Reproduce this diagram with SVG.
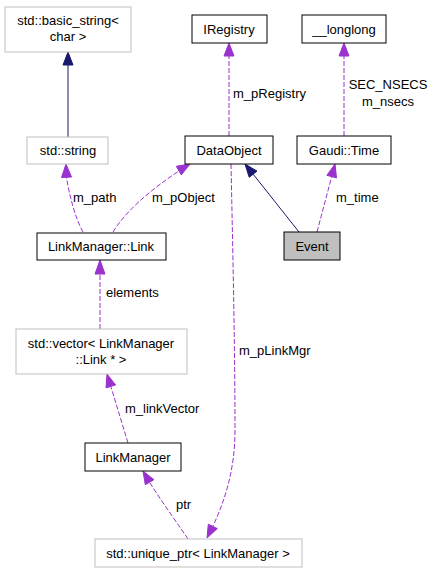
<svg xmlns="http://www.w3.org/2000/svg" width="436" height="573" viewBox="0 0 436 573">
<style>
text{font-family:"Liberation Sans",Arial,sans-serif;font-size:13px;fill:#000}
.n text{text-anchor:middle}
.b{fill:#fff;stroke:#000;stroke-width:1}
.g{fill:#fff;stroke:#bfbfbf;stroke-width:1}
.inh{fill:none;stroke:#191970;stroke-width:1}
.inhA{fill:#191970;stroke:#191970}
.use{fill:none;stroke:#9a32cd;stroke-width:1;stroke-dasharray:5,2}
.useA{fill:#9a32cd;stroke:#9a32cd}
</style>
<rect width="436" height="573" fill="#fff"/>
<g id="edges">
<path class="inh" d="M68,137 V64"/>
<polygon class="inhA" points="63,65 68,52 73,65"/>
<path class="inh" d="M299,232 L253,174"/>
<polygon class="inhA" points="257,171.1 245,164 249.2,177.3"/>
<path class="use" d="M229,136 V56"/>
<polygon class="useA" points="224,56 229,43 234,56"/>
<path class="use" d="M344,136 V56"/>
<polygon class="useA" points="339,56 344,43 349,56"/>
<path class="use" d="M317,232 L331.7,176.6"/>
<polygon class="useA" points="336.5,177.9 335,164 326.9,175.3"/>
<path class="use" d="M83,232 C76,220 69,195 66.5,177"/>
<polygon class="useA" points="61.5,177.5 66,164 71.5,177"/>
<path class="use" d="M113,232 C125,212 150,190 179,171"/>
<polygon class="useA" points="181.3,174.9 190,164 176.3,166.3"/>
<path class="use" d="M100,329 V274"/>
<polygon class="useA" points="95,274 100,260 105,274"/>
<path class="use" d="M128,443 L111,387"/>
<polygon class="useA" points="115.6,384.9 107,374 106,387.9"/>
<path class="use" d="M188,539 C180,527 164,505 150,483"/>
<polygon class="useA" points="153.9,479.7 143,471 145.3,484.7"/>
<path class="use" d="M231,164 C233,260 235,350 235,430 C235,470 225,500 213,526"/>
<polygon class="useA" points="217.3,528.6 207,538 208.3,524.2"/>
<text x="233" y="98">m_pRegistry</text>
<text x="388" y="89" text-anchor="middle">SEC_NSECS</text>
<text x="388" y="106" text-anchor="middle">m_nsecs</text>
<text x="73" y="202">m_path</text>
<text x="152" y="202">m_pObject</text>
<text x="336" y="202">m_time</text>
<text x="106" y="297">elements</text>
<text x="239" y="355">m_pLinkMgr</text>
<text x="125" y="413">m_linkVector</text>
<text x="176" y="509">ptr</text>
</g>
<g id="basic_string" class="n"><rect class="g" x="5" y="7" width="126" height="45"/><text x="68" y="24.5">std::basic_string&lt;</text><text x="68" y="41">char &gt;</text></g>
<g id="string" class="n"><rect class="g" x="27" y="137" width="81" height="27"/><text x="68" y="155">std::string</text></g>
<g id="IRegistry" class="n"><rect class="b" x="192" y="15" width="75" height="28"/><text x="229" y="33.5">IRegistry</text></g>
<g id="longlong" class="n"><rect class="b" x="302" y="15" width="84" height="28"/><text x="344" y="33.5">__longlong</text></g>
<g id="DataObject" class="n"><rect class="b" x="185" y="136" width="88" height="28"/><text x="229" y="154.5">DataObject</text></g>
<g id="GaudiTime" class="n"><rect class="b" x="297" y="136" width="94" height="28"/><text x="344" y="154.5">Gaudi::Time</text></g>
<g id="Link" class="n"><rect class="b" x="37" y="233" width="129" height="27"/><text x="101" y="251">LinkManager::Link</text></g>
<g id="Event" class="n"><rect x="284" y="232" width="56" height="28" fill="#bfbfbf" stroke="#000"/><text x="312" y="251">Event</text></g>
<g id="vector" class="n"><rect class="g" x="16" y="329" width="171" height="45"/><text x="101" y="347.5">std::vector&lt; LinkManager</text><text x="101" y="364">::Link * &gt;</text></g>
<g id="LinkManager" class="n"><rect class="b" x="85" y="443" width="96" height="28"/><text x="133" y="461.5">LinkManager</text></g>
<g id="unique_ptr" class="n"><rect class="g" x="95" y="539" width="207" height="28"/><text x="198" y="557.5">std::unique_ptr&lt; LinkManager &gt;</text></g>
</svg>
